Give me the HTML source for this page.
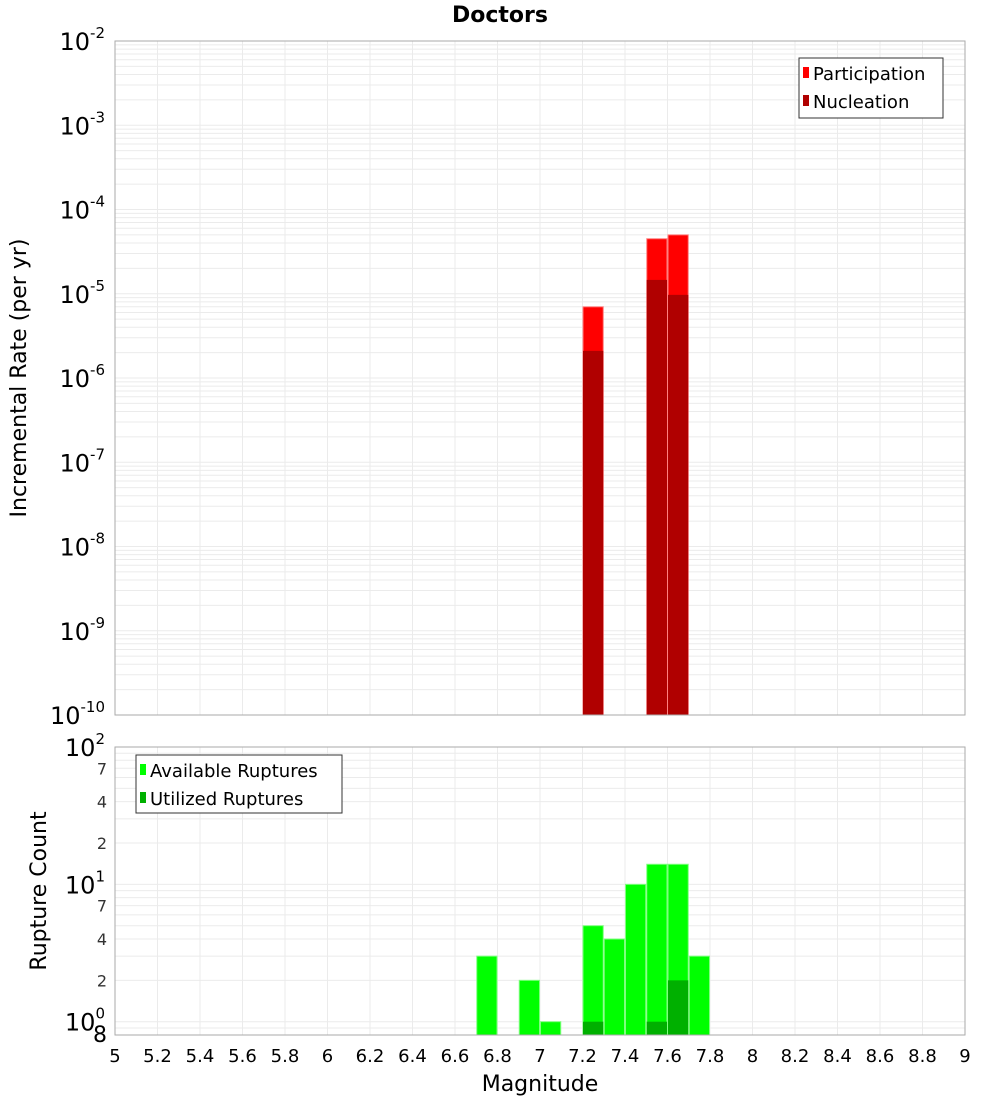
<!DOCTYPE html>
<html><head><meta charset="utf-8"><style>
body{margin:0;background:#fff;font-family:"Liberation Sans","DejaVu Sans",sans-serif}
svg text{font-family:"DejaVu Sans","Liberation Sans",sans-serif}
</style></head><body>
<svg id="chart" width="1000" height="1100" xmlns="http://www.w3.org/2000/svg"></svg>
<script>
const binCenters = [7.25, 7.55, 7.65];
const participation = [7.0e-6, 4.5e-5, 5.0e-5];
const nucleation = [2.1e-6, 1.46e-5, 9.7e-6];
const countBins = [6.75, 6.95, 7.05, 7.25, 7.35, 7.45, 7.55, 7.65, 7.75];
const available = [3, 2, 1, 5, 4, 10, 14, 14, 3];
const utilBins = [7.25, 7.55, 7.65];
const utilized = [1, 1, 2];
const xTicks = [5,5.2,5.4,5.6,5.8,6,6.2,6.4,6.6,6.8,7,7.2,7.4,7.6,7.8,8,8.2,8.4,8.6,8.8,9];
const topExps = [-2,-3,-4,-5,-6,-7,-8,-9,-10];
const botMinor = [7,4,2];

const svg = document.getElementById('chart');
const NS = 'http://www.w3.org/2000/svg';
function mk(tag, attrs, parent){const e=document.createElementNS(NS,tag);for(const k in attrs)e.setAttribute(k,attrs[k]);(parent||svg).appendChild(e);return e;}
const X0=115,X1=965;
const xs = m => X0 + (m-5)/(9-5)*(X1-X0);
const T0=41,T1=715;
const ysTop = v => T0 + (-2 - Math.log10(v))/8*(T1-T0);
const B0=747,B1=1035;
const ysBot = v => B0 + (2 - Math.log10(v))/(2 - Math.log10(0.8))*(B1-B0);

// title
let t=mk('text',{x:500,y:22,'text-anchor':'middle','font-size':22,'font-weight':'bold'});


t.textContent='Doctors';

// Top plot
let g=mk('g',{});


mk('rect',{x:X0,y:T0,width:X1-X0,height:T1-T0,fill:'#fff'},g);
for(let e=-10;e<-2;e++){for(let k=1;k<10;k++){const y=ysTop(k*Math.pow(10,e));mk('line',{x1:X0,x2:X1,y1:y,y2:y,stroke:'#ebebeb','stroke-width':1},g);}}
xTicks.forEach(m=>{const x=xs(m);mk('line',{x1:x,x2:x,y1:T0,y2:T1,stroke:'#ebebeb'},g);});
binCenters.forEach((m,i)=>{
  const x=xs(m-0.05), w=xs(m+0.05)-x;
  let r=mk('rect',{x:x+0.5,y:ysTop(participation[i]),width:w-1,height:T1-ysTop(participation[i]),fill:'#ff0000',stroke:'#ff8080','stroke-width':1},g);
  
  
  let n=mk('rect',{x:x+0.5,y:ysTop(nucleation[i]),width:w-1,height:T1-ysTop(nucleation[i]),fill:'#b00000'},g);
  
  
});
mk('rect',{x:X0,y:T0,width:X1-X0,height:T1-T0,fill:'none',stroke:'#aaa'},g);
topExps.forEach(e=>{const y=ysTop(Math.pow(10,e));
  let tx=mk('text',{x:105,y:y+9,'text-anchor':'end','font-size':24},g);
  
  
  tx.innerHTML='10<tspan dy="-12" font-size="15">'+e+'</tspan>';
});
let yl=mk('text',{x:0,y:0,'text-anchor':'middle','font-size':22,transform:'translate(26,378) rotate(-90)'});


yl.textContent='Incremental Rate (per yr)';
// legend top
let lg=mk('g',{});


mk('rect',{x:799,y:58,width:144,height:60,fill:'#fff',stroke:'#333'},lg);
mk('rect',{x:803,y:67,width:6,height:11,fill:'#ff0000'},lg);
mk('rect',{x:803,y:95,width:6,height:11,fill:'#b00000'},lg);
let l1=mk('text',{x:813,y:80,'font-size':18},lg);l1.textContent='Participation';
let l2=mk('text',{x:813,y:108,'font-size':18},lg);l2.textContent='Nucleation';

// Bottom plot
let b=mk('g',{});


mk('rect',{x:X0,y:B0,width:X1-X0,height:B1-B0,fill:'#fff'},b);
[0.8,0.9,1,2,3,4,5,6,7,8,9,10,20,30,40,50,60,70,80,90].forEach(v=>{const y=ysBot(v);mk('line',{x1:X0,x2:X1,y1:y,y2:y,stroke:'#ebebeb'},b);});
xTicks.forEach(m=>{const x=xs(m);mk('line',{x1:x,x2:x,y1:B0,y2:B1,stroke:'#ebebeb'},b);});
countBins.forEach((m,i)=>{
  const x=xs(m-0.05), w=xs(m+0.05)-x;
  let r=mk('rect',{x:x+0.5,y:ysBot(available[i]),width:w-1,height:B1-ysBot(available[i]),fill:'#00ff00',stroke:'#80ff80'},b);
  
  
});
utilBins.forEach((m,i)=>{
  const x=xs(m-0.05), w=xs(m+0.05)-x;
  let r=mk('rect',{x:x+0.5,y:ysBot(utilized[i]),width:w-1,height:B1-ysBot(utilized[i]),fill:'#00b000'},b);
  
  
});
mk('rect',{x:X0,y:B0,width:X1-X0,height:B1-B0,fill:'none',stroke:'#aaa'},b);
[[100,'2'],[10,'1'],[1,'0']].forEach(([v,e])=>{const y=ysBot(v);
  let tx=mk('text',{x:105,y:y+9,'text-anchor':'end','font-size':24},b);
  
  
  tx.innerHTML='10<tspan dy="-12" font-size="15">'+e+'</tspan>';
});
[10,1].forEach(d=>botMinor.forEach(k=>{const y=ysBot(k*d);
  let tx=mk('text',{x:107,y:y+6,'text-anchor':'end','font-size':16,fill:'#333'},b);
  
  
  tx.textContent=k;}));
let e8=mk('text',{x:107,y:1042,'text-anchor':'end','font-size':22},b);


e8.textContent='8';
let yl2=mk('text',{x:0,y:0,'text-anchor':'middle','font-size':22,transform:'translate(46,891) rotate(-90)'});


yl2.textContent='Rupture Count';
let lg2=mk('g',{});


mk('rect',{x:136,y:755,width:206,height:58,fill:'#fff',stroke:'#333'},lg2);
mk('rect',{x:140,y:764,width:6,height:11,fill:'#00ff00'},lg2);
mk('rect',{x:140,y:792,width:6,height:11,fill:'#00b000'},lg2);
let l3=mk('text',{x:150,y:777,'font-size':18},lg2);l3.textContent='Available Ruptures';
let l4=mk('text',{x:150,y:805,'font-size':18},lg2);l4.textContent='Utilized Ruptures';

xTicks.forEach(m=>{
  let tx=mk('text',{x:xs(m),y:1062,'text-anchor':'middle','font-size':18});
  
  
  tx.textContent=String(m);
});
let xl=mk('text',{x:540,y:1091,'text-anchor':'middle','font-size':22});


xl.textContent='Magnitude';
</script>
</body></html>
